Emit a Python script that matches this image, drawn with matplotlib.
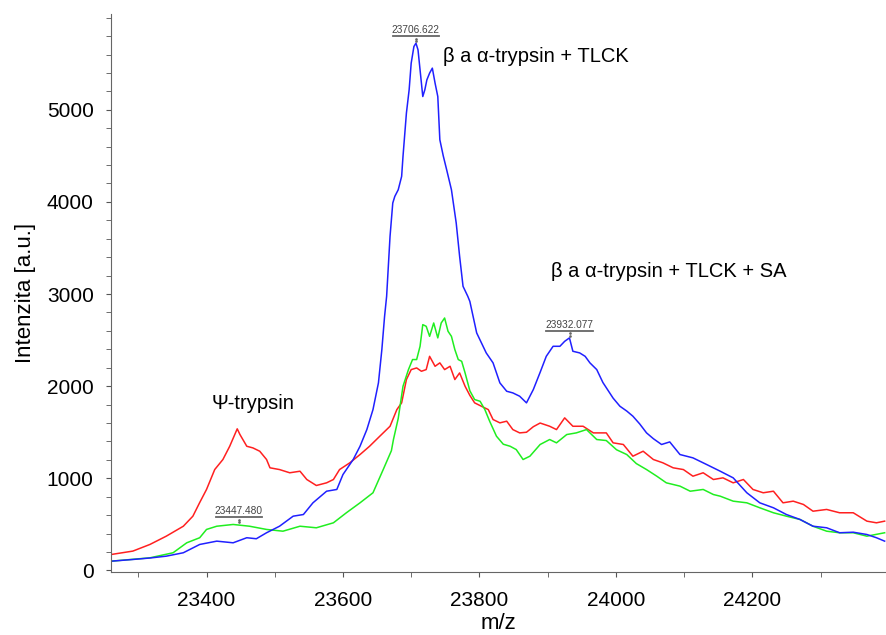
import matplotlib
matplotlib.use('Agg')
import matplotlib.pyplot as plt
import matplotlib.transforms as mtransforms
import numpy as np

plt.rcParams['font.family'] = ['Liberation Sans', 'DejaVu Sans']

# blue: beta a alpha-trypsin + TLCK
blue_mz = [23261, 23292, 23317, 23341, 23366, 23390, 23415, 23439, 23459, 23473,
           23488, 23507, 23527, 23542, 23556, 23576, 23591, 23600, 23615, 23625,
           23635, 23644, 23652, 23657, 23661, 23664, 23669, 23673, 23676, 23681,
           23686, 23688, 23693, 23697, 23700, 23704, 23707, 23710, 23713, 23717,
           23720, 23723, 23727, 23731, 23735, 23739, 23742, 23747, 23752, 23759,
           23766, 23771, 23776, 23783, 23786, 23796, 23810, 23820, 23830, 23840,
           23849, 23859, 23869, 23879, 23889, 23898, 23908, 23918, 23925, 23932,
           23937, 23947, 23955, 23962, 23972, 23981, 23996, 24006, 24016, 24025,
           24035, 24045, 24055, 24067, 24079, 24094, 24113, 24133, 24153, 24172,
           24192, 24211, 24231, 24250, 24270, 24289, 24309, 24328, 24348, 24368,
           24382, 24394]
blue_int = [101, 119, 135, 155, 192, 282, 318, 300, 355, 344,
            409, 480, 589, 607, 734, 860, 879, 1041, 1204, 1348,
            1529, 1746, 2036, 2397, 2758, 2975, 3626, 3988, 4060, 4132,
            4277, 4494, 4964, 5217, 5506, 5687, 5723, 5651, 5434, 5144,
            5217, 5325, 5398, 5452, 5290, 5144, 4675, 4500, 4349, 4132,
            3771, 3409, 3084, 2975, 2920, 2578, 2361, 2253, 2036, 1945,
            1927, 1891, 1819, 1963, 2150, 2324, 2433, 2433, 2487, 2524,
            2379, 2361, 2324, 2253, 2180, 2040, 1870, 1782, 1730, 1674,
            1590, 1493, 1430, 1367, 1395, 1258, 1222, 1150, 1077, 1005,
            843, 734, 680, 607, 553, 480, 463, 409, 415, 390,
            355, 318]

# red: psi-trypsin
red_mz = [23261, 23292, 23317, 23341, 23366, 23380, 23390, 23400, 23412, 23424,
          23434, 23445, 23449, 23459, 23468, 23478, 23488, 23493, 23507, 23522,
          23537, 23547, 23561, 23576, 23586, 23595, 23610, 23625, 23639, 23654,
          23669, 23679, 23686, 23693, 23700, 23708, 23715, 23722, 23727, 23735,
          23742, 23749, 23757, 23764, 23771, 23779, 23786, 23793, 23803, 23813,
          23820, 23830, 23840, 23849, 23859, 23869, 23879, 23889, 23903, 23913,
          23925, 23937, 23952, 23967, 23976, 23986, 23996, 24011, 24025, 24040,
          24055, 24069, 24084, 24099, 24113, 24128, 24143, 24157, 24172, 24187,
          24201, 24216, 24231, 24245, 24260, 24275, 24289, 24309, 24328, 24348,
          24368, 24382, 24394]
red_int = [174, 210, 282, 372, 480, 589, 737, 879, 1095, 1204,
           1348, 1537, 1475, 1348, 1330, 1294, 1204, 1114, 1095, 1060,
           1077, 987, 922, 951, 987, 1095, 1168, 1258, 1348, 1457,
           1565, 1746, 1819, 2072, 2180, 2198, 2162, 2180, 2324, 2216,
           2253, 2180, 2216, 2072, 2144, 1999, 1900, 1819, 1782, 1746,
           1638, 1602, 1620, 1529, 1493, 1500, 1560, 1600, 1565, 1529,
           1656, 1565, 1565, 1493, 1493, 1493, 1385, 1367, 1240, 1294,
           1204, 1168, 1114, 1095, 1023, 1060, 987, 1005, 951, 987,
           879, 843, 860, 734, 752, 716, 643, 662, 626, 626,
           535, 517, 535]

# green: beta a alpha-trypsin + TLCK + SA
green_mz = [23261, 23317, 23351, 23371, 23390, 23400, 23415, 23439, 23463, 23488,
            23512, 23537, 23561, 23586, 23605, 23625, 23644, 23659, 23671, 23674,
            23681, 23688, 23696, 23702, 23708, 23713, 23717, 23722, 23727, 23733,
            23739, 23744, 23749, 23754, 23759, 23764, 23769, 23774, 23779, 23786,
            23793, 23801, 23808, 23815, 23825, 23835, 23845, 23854, 23864, 23874,
            23889, 23903, 23913, 23928, 23942, 23957, 23972, 23986, 24001, 24016,
            24030, 24045, 24060, 24074, 24094, 24109, 24128, 24143, 24153, 24172,
            24192, 24211, 24231, 24250, 24270, 24289, 24309, 24328, 24348, 24368,
            24394]
green_int = [101, 137, 192, 300, 355, 445, 480, 499, 480, 445,
             426, 480, 463, 517, 626, 734, 843, 1095, 1300, 1421,
             1650, 1999, 2180, 2289, 2289, 2433, 2668, 2650, 2541, 2686,
             2524, 2686, 2740, 2596, 2541, 2397, 2289, 2270, 2144, 1950,
             1855, 1836, 1746, 1620, 1457, 1370, 1348, 1312, 1204, 1240,
             1367, 1421, 1385, 1475, 1493, 1529, 1421, 1410, 1310, 1258,
             1160, 1095, 1023, 951, 915, 860, 879, 824, 806, 752,
             734, 680, 626, 589, 553, 480, 426, 409, 409, 372,
             409]

peak_mz = [23706.622, 23932.077, 23447.480]
peak_int = [5723, 2524, 500]

fig = plt.figure(figsize=(8.86, 6.35), dpi=100)
ax = fig.add_axes([0.1253, 0.0992, 0.8747, 0.8788])

ax.plot(red_mz, red_int, color='#ff2020', lw=1.1)
ax.plot(green_mz, green_int, color='#20ee20', lw=1.1)
ax.plot(blue_mz, blue_int, color='#2020ff', lw=1.1)

ax.set_xlim(23260, 24396)
ax.set_ylim(-17, 6040)

# peak labels (underlined, gray, small)
for mz, inten in zip(peak_mz, peak_int):
    ax.annotate(f'{mz:.3f}', (mz, inten), xytext=(0, 5.8), textcoords='offset points',
                ha='center', va='bottom', fontsize=7.3, color='#444444')
    t_line = mtransforms.offset_copy(ax.transData, fig=fig, x=0, y=5, units='points')
    ax.plot([mz - 34, mz + 34], [inten, inten], color='#666666', lw=1.3, transform=t_line)
    for dy in (1.5, 3.3):
        t_dot = mtransforms.offset_copy(ax.transData, fig=fig, x=0, y=dy, units='points')
        ax.plot(mz, inten, 'o', ms=0.9, color='#666666', transform=t_dot)

ax.text(23746, 5575, 'β a α-trypsin + TLCK', fontsize=14.5, va='center', ha='left')
ax.text(23905, 3243, 'β a α-trypsin + TLCK + SA', fontsize=14.5, va='center', ha='left')
ax.text(23468, 1811, 'Ψ-trypsin', fontsize=14.5, va='center', ha='center')

ax.set_xticks([23400, 23600, 23800, 24000, 24200])
ax.set_xticks(np.arange(23300, 24400, 100), minor=True)
ax.set_yticks([0, 1000, 2000, 3000, 4000, 5000])
ax.set_yticks(np.arange(0, 6001, 200), minor=True)
ax.tick_params(axis='both', which='both', direction='out', length=3.5,
               color='#555555', labelsize=15)
ax.tick_params(axis='x', pad=10)
ax.tick_params(axis='y', pad=9)

for side in ['top', 'right']:
    ax.spines[side].set_visible(False)
for side in ['left', 'bottom']:
    ax.spines[side].set_color('#666666')

ax.set_xlabel('m/z', fontsize=16, labelpad=2)
ax.set_ylabel('Intenzita [a.u.]', fontsize=16, labelpad=8)

fig.savefig('out.png', dpi=100)
